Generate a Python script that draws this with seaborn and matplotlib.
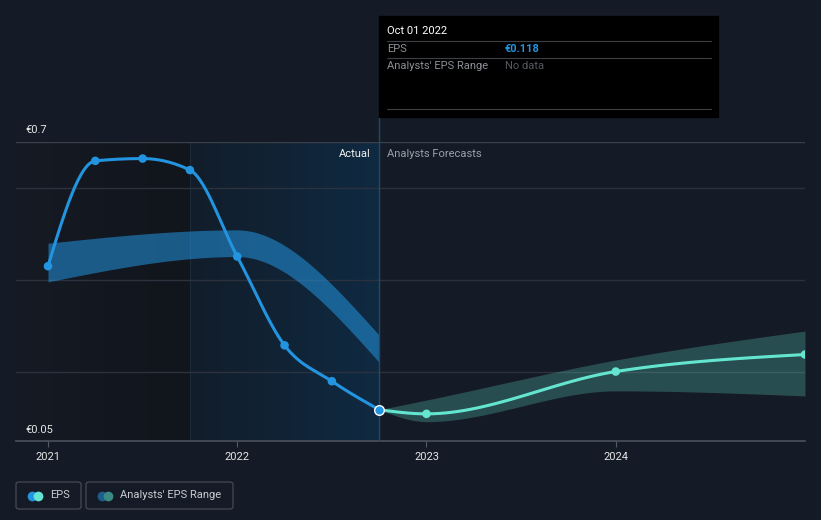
import numpy as np
import pandas as pd
import matplotlib
matplotlib.use("Agg")
import matplotlib.pyplot as plt
import seaborn as sns
from matplotlib.patches import FancyBboxPatch, Rectangle
from matplotlib.lines import Line2D

# ---- data ----
eps_years = [2021.0, 2021.25, 2021.5, 2021.75, 2022.0, 2022.25, 2022.5, 2022.75]
eps_values = [0.430, 0.659, 0.664, 0.639, 0.451, 0.258, 0.180, 0.118]

past_range_years = [2021.0, 2022.0, 2022.75]
past_range_high = [0.480, 0.509, 0.280]
past_range_low = [0.396, 0.451, 0.221]

fc_years = [2022.75, 2023.0, 2024.0, 2025.0]
fc_values = [0.118, 0.109, 0.201, 0.238]
fc_high = [0.118, 0.139, 0.226, 0.289]
fc_low = [0.118, 0.092, 0.159, 0.148]

tick_years = [2021, 2022, 2023, 2024]
tick_labels = ["2021", "2022", "2023", "2024"]
grid_values = [0.6, 0.4, 0.2]

BG = "#151b26"
BLUE = "#2394df"
TEAL = "#64e5d0"
W, H = 821, 520


def smooth(x, y, n=30):
    # monotone cubic path through the points (same rule as d3 curveMonotoneX), drawing only
    x = np.asarray(x, float)
    y = np.asarray(y, float)
    h = np.diff(x)
    d = np.diff(y) / h
    m = np.zeros_like(y)
    for i in range(1, len(y) - 1):
        if d[i - 1] * d[i] <= 0:
            m[i] = 0.0
        else:
            p = (d[i - 1] * h[i] + d[i] * h[i - 1]) / (h[i - 1] + h[i])
            m[i] = np.sign(d[i]) * min(abs(d[i - 1]), abs(d[i]), 0.5 * abs(p)) * 2
    if len(y) > 2:
        m[0] = (3 * d[0] - m[1]) / 2
        m[-1] = (3 * d[-1] - m[-2]) / 2
    else:
        m[:] = d[0]
    xs, ys = [], []
    for i in range(len(h)):
        t = np.linspace(0, 1, n, endpoint=(i == len(h) - 1))
        h00 = 2 * t**3 - 3 * t**2 + 1
        h10 = t**3 - 2 * t**2 + t
        h01 = -2 * t**3 + 3 * t**2
        h11 = t**3 - t**2
        xs.append(x[i] + t * h[i])
        ys.append(h00 * y[i] + h10 * h[i] * m[i] + h01 * y[i + 1] + h11 * h[i] * m[i + 1])
    return np.concatenate(xs), np.concatenate(ys)


def fx(px):
    return px / W


def fy(py):
    return 1 - py / H


sns.set_theme(style="dark")
plt.rcParams["font.family"] = ["Roboto", "DejaVu Sans"]

fig = plt.figure(figsize=(W / 100, H / 100), dpi=100, facecolor=BG)
ax = fig.add_axes([fx(16), fy(441), fx(805) - fx(16), fy(142) - fy(441)])
ax.set_facecolor(BG)
x0, x1 = 2020.831, 2025.0
ax.set_xlim(x0, x1)
ax.set_ylim(0.05, 0.7)

# shaded past regions
grad = np.linspace(0, 1, 256).reshape(1, -1)
ax.imshow(grad, extent=[x0, 2021.75, 0.05, 0.7], aspect="auto", zorder=0,
          cmap=matplotlib.colors.LinearSegmentedColormap.from_list("d", ["#151a24", "#11151c"]))
ax.imshow(grad, extent=[2021.75, 2022.75, 0.05, 0.7], aspect="auto", zorder=0,
          cmap=matplotlib.colors.LinearSegmentedColormap.from_list("b", ["#121d2a", "#0f2a42"]))
ax.axvline(2021.75, color="#1c2c3c", lw=0.8, zorder=1)

for g in grid_values:
    ax.axhline(g, color="#2c323d", lw=1, zorder=1)
ax.axhline(0.7, color="#3a404a", lw=1, zorder=1)

# bands
bx, bh = smooth(past_range_years, past_range_high)
_, bl = smooth(past_range_years, past_range_low)
ax.fill_between(bx, bl, bh, color=BLUE, alpha=0.55, lw=0, zorder=2)
tx, th = smooth(fc_years, fc_high)
_, tl = smooth(fc_years, fc_low)
ax.fill_between(tx, tl, th, color=TEAL, alpha=0.25, lw=0, zorder=2)

# lines
ex, ey = smooth(eps_years, eps_values)
sns.lineplot(x=ex, y=ey, ax=ax, color=BLUE, lw=2.2, zorder=4, sort=False)
sns.scatterplot(x=eps_years[:-1], y=eps_values[:-1], ax=ax, color=BLUE, s=38,
                edgecolor="none", zorder=5)
fx_, fy_ = smooth(fc_years, fc_values)
sns.lineplot(x=fx_, y=fy_, ax=ax, color=TEAL, lw=2.2, zorder=4, sort=False)
sns.scatterplot(x=fc_years[1:], y=fc_values[1:], ax=ax, color=TEAL, s=38,
                edgecolor="none", zorder=5)
ax.scatter([eps_years[-1]], [eps_values[-1]], s=48, color=BLUE, edgecolor="white",
           linewidth=1, zorder=6)

# divider between actual and forecast
ax.plot([2022.75, 2022.75], [0.05, 0.755], color="#1f4a6e", lw=1, zorder=3, clip_on=False)

ax.set_xticks(tick_years)
ax.set_xticklabels(tick_labels)
ax.set_yticks([])
ax.tick_params(axis="x", colors="#e6e6e6", labelsize=8, length=4, width=0.8,
               color="#555b66", pad=4, bottom=True)
for s in ["top", "left", "right"]:
    ax.spines[s].set_visible(False)
ax.spines["bottom"].set_color("#4a505a")
ax.set_xlabel("")
ax.set_ylabel("")
ax.grid(False)

# y labels
fig.text(fx(25), fy(130), "€0.7", color="#e6e6e6", fontsize=8, va="center")
fig.text(fx(25), fy(430), "€0.05", color="#e6e6e6", fontsize=8, va="center")
fig.text(fx(371), fy(154), "Actual", color="#f0f0f0", fontsize=8, va="center", ha="right")
fig.text(fx(387), fy(154), "Analysts Forecasts", color="#9aa0a8", fontsize=8, va="center")

# tooltip
fig.patches.append(Rectangle((fx(379), fy(117)), fx(718) - fx(379), fy(16) - fy(117),
                             transform=fig.transFigure, color="black", zorder=10))
for yy in [41, 58, 109]:
    fig.add_artist(Line2D([fx(387), fx(711)], [fy(yy), fy(yy)], color="#3c3f44", lw=0.8, zorder=11))
fig.text(fx(387), fy(31), "Oct 01 2022", color="white", fontsize=8, va="center", zorder=12)
fig.text(fx(387), fy(49), "EPS", color="#8c9096", fontsize=8, va="center", zorder=12)
fig.text(fx(505), fy(49), "€0.118", color=BLUE, fontsize=8, va="center", weight="bold", zorder=12)
fig.text(fx(387), fy(66), "Analysts' EPS Range", color="#8c9096", fontsize=8, va="center", zorder=12)
fig.text(fx(505), fy(66), "No data", color="#55595f", fontsize=8, va="center", zorder=12)

# legend
for (lx0, lx1, label, c1, c2) in [(16, 81, "EPS", BLUE, TEAL),
                                  (86, 233, "Analysts' EPS Range", "#1d5e8c", "#3c8a84")]:
    fig.patches.append(FancyBboxPatch((fx(lx0), fy(509)), fx(lx1) - fx(lx0), fy(482) - fy(509),
                                      boxstyle="round,pad=0,rounding_size=0.004",
                                      transform=fig.transFigure, facecolor="none",
                                      edgecolor="#4a4f58", lw=0.8))
    cy = 495.5
    fig.add_artist(Line2D([fx(lx0 + 16)], [fy(cy)], marker="o", ms=7, color=c1, mec="none"))
    fig.add_artist(Line2D([fx(lx0 + 22)], [fy(cy)], marker="o", ms=7, color=c2, mec="none"))
    fig.text(fx(lx0 + 34), fy(cy), label, color="#c8ccd2", fontsize=8, va="center")

fig.savefig("out.png", dpi=100, facecolor=BG)
